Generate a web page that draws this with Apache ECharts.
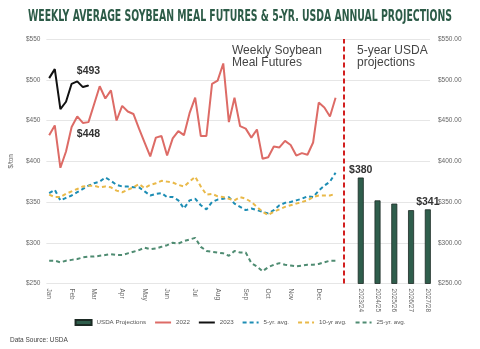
<!DOCTYPE html>
<html>
<head>
<meta charset="utf-8">
<script src="https://cdn.jsdelivr.net/npm/echarts@6/dist/echarts.min.js"></script>
<style>
  html, body { margin: 0; padding: 0; background: #ffffff; }
  #chart { width: 480px; height: 349px; }
</style>
</head>
<body>
<div id="chart"></div>
<script>
// Week-of-year categories; a month name marks the first week of each month
const weekLabels = [
  'Jan','','','',
  'Feb','','','',
  'Mar','','','','',
  'Apr','','','',
  'May','','','',
  'Jun','','','','',
  'Jul','','','',
  'Aug','','','','',
  'Sep','','','',
  'Oct','','','',
  'Nov','','','','',
  'Dec','','',''
];

// Weekly average soybean meal futures, $/ton
const futures2022 = [
  432, 444, 392, 412, 442, 455, 447, 448, 470, 492,
  477, 487, 450, 468, 461, 458, 440, 423, 406, 429,
  431, 407, 428, 437, 432, 459, 478, 431, 431, 495,
  499, 520, 448, 478, 443, 440, 429, 439, 403, 405,
  418, 417, 425, 420, 407, 410, 408, 423, 472, 466,
  455, 478
];
const futures2023 = [502, 513, 464, 473, 495, 498, 491, 493];

const avg5yr = [
  361, 365, 352, 355, 358, 362, 366, 370, 373, 375,
  380, 376, 371, 369, 369, 368, 368, 363, 358, 360,
  361, 356, 356, 352, 342, 352, 354, 346, 341, 350,
  353, 354, 356, 348, 344, 340, 342, 340, 338, 336,
  340, 346, 349, 350, 352, 354, 357, 356, 364, 370,
  375, 386
];
const avg10yr = [
  359, 356, 356, 360, 363, 366, 369, 370, 370, 368,
  369, 368, 364, 362, 365, 368, 372, 367, 371, 373,
  376, 375, 374, 371, 369, 375, 381, 369, 359, 360,
  357, 356, 354, 352, 356, 354, 350, 344, 338, 334,
  338, 341, 344, 346, 348, 350, 352, 356, 358, 358,
  358, 360
];
const avg25yr = [
  278, 278, 276, 278, 279, 280, 282, 283, 283, 284,
  285, 286, 285, 285, 287, 289, 291, 294, 292, 293,
  295, 297, 300, 299, 302, 304, 306, 295, 290, 289,
  288, 287, 284, 290, 288, 288, 275, 271, 265, 270,
  273, 275, 273, 272, 271, 272, 273, 273, 274, 276,
  278, 278
];

// USDA annual projections, $/ton
const projYears = ['2023/24', '2024/25', '2025/26', '2026/27', '2027/28'];
const projValues = [380, 352, 348, 340, 341];

// Weeks whose values carry a price tag
const tagged2022Week = 7;
const tagged2023Week = futures2023.length - 1;

const priceMin = 250, priceMax = 550, priceStep = 50;

const FONT = 'Liberation Sans';
const TITLE_TEXT = 'WEEKLY AVERAGE SOYBEAN MEAL FUTURES & 5-YR. USDA ANNUAL PROJECTIONS';
const TITLE_FONT = 'bold 16px "DejaVu Sans Condensed", "DejaVu Sans", sans-serif';

// Squeeze the banner title to its target width
function titleScale(targetWidth) {
  const ctx = document.createElement('canvas').getContext('2d');
  ctx.font = TITLE_FONT;
  return targetWidth / ctx.measureText(TITLE_TEXT).width;
}

const tagLabel = (pos, dist) => ({
  show: true, position: pos, distance: dist,
  formatter: p => '$' + (Array.isArray(p.value) ? p.value[1] : p.value),
  fontFamily: FONT, fontSize: 10.5, fontWeight: 'bold', color: '#333'
});

// A tagged point on a line: a tiny dot that carries the price label
const taggedPoint = (v, color, pos, dist) => ({
  value: v, symbol: 'circle', symbolSize: 1,
  itemStyle: { color },
  label: tagLabel(pos, dist)
});

const dashed = (name, data, color) => ({
  name, type: 'line', data,
  xAxisIndex: 0, yAxisIndex: 0,
  symbol: 'none', smooth: false,
  lineStyle: { color, width: 2, type: [4, 3] },
  itemStyle: { color },
  z: 2
});

const chart = echarts.init(document.getElementById('chart'), null, { renderer: 'canvas' });

const axisLabelStyle = { fontFamily: FONT, fontSize: 6.5, color: '#666' };
const noMarker = { opacity: 0 };

chart.setOption({
  animation: false,
  backgroundColor: '#ffffff',
  textStyle: { fontFamily: FONT },
  grid: [
    { left: 45, right: 136, top: 39, bottom: 65.5 },
    { left: 344, right: 50, top: 39, bottom: 65.5 }
  ],
  xAxis: [
    {
      type: 'category', gridIndex: 0,
      data: weekLabels.concat(['']),
      boundaryGap: true,
      axisLine: { show: false }, axisTick: { show: false },
      axisLabel: Object.assign({ interval: 0, rotate: -90, margin: 5 }, axisLabelStyle)
    },
    {
      type: 'value', gridIndex: 1,
      min: -1, max: 4.13, interval: 1,
      axisLine: { show: false }, axisTick: { show: false },
      splitLine: { show: false },
      axisLabel: Object.assign({
        rotate: -90, margin: 5,
        formatter: v => (Number.isInteger(v) && projYears[v]) ? projYears[v] : ''
      }, axisLabelStyle)
    }
  ],
  yAxis: [
    {
      type: 'value', gridIndex: 0,
      min: priceMin, max: priceMax, interval: priceStep,
      axisLine: { show: false }, axisTick: { show: false },
      splitLine: { lineStyle: { color: '#e6e6e6', width: 1 } },
      axisLabel: Object.assign({ margin: 6, formatter: v => '$' + v }, axisLabelStyle),
      name: '$/ton', nameLocation: 'middle', nameGap: 24,
      nameTextStyle: { fontFamily: FONT, fontSize: 6.5, color: '#666' }
    },
    {
      type: 'value', gridIndex: 1, position: 'right',
      min: priceMin, max: priceMax, interval: priceStep,
      axisLine: { show: false }, axisTick: { show: false },
      splitLine: { lineStyle: { color: '#e6e6e6', width: 1 } },
      axisLabel: Object.assign({ margin: 8, formatter: v => '$' + v.toFixed(2) }, axisLabelStyle)
    }
  ],
  legend: {
    left: 'center', top: 314,
    itemWidth: 16, itemHeight: 5, itemGap: 8,
    textStyle: { fontFamily: FONT, fontSize: 6.2, color: '#555' },
    data: [
      { name: 'USDA Projections', icon: 'rect' },
      { name: '2022', itemStyle: noMarker },
      { name: '2023', itemStyle: noMarker },
      { name: '5-yr. avg.', itemStyle: noMarker },
      { name: '10-yr avg.', itemStyle: noMarker },
      { name: '25-yr. avg.', itemStyle: noMarker }
    ]
  },
  series: [
    {
      name: 'USDA Projections', type: 'bar',
      xAxisIndex: 1, yAxisIndex: 1,
      barWidth: 6,
      data: projValues.map((v, i) => {
        const item = { value: [i, v] };
        if (i === 0 || i === projValues.length - 1) item.label = tagLabel('top', 2);
        return item;
      }),
      itemStyle: { color: '#2f5e4c', borderColor: '#1c2a24', borderWidth: 0.8 },
      markLine: {
        silent: true, symbol: 'none',
        label: { show: false },
        lineStyle: { color: '#d21f1f', width: 2, type: [5, 3] },
        data: [{ xAxis: -1 }]
      }
    },
    dashed('5-yr. avg.', avg5yr, '#1d8db4'),
    dashed('10-yr avg.', avg10yr, '#e9b949'),
    dashed('25-yr. avg.', avg25yr, '#4f8c72'),
    {
      name: '2022', type: 'line',
      xAxisIndex: 0, yAxisIndex: 0,
      symbol: 'none',
      lineStyle: { color: '#dd6b66', width: 2 },
      itemStyle: { color: '#dd6b66' },
      data: futures2022.map((v, i) => i === tagged2022Week
        ? taggedPoint(v, '#dd6b66', 'bottom', 6)
        : v),
      z: 3
    },
    {
      name: '2023', type: 'line',
      xAxisIndex: 0, yAxisIndex: 0,
      symbol: 'none',
      lineStyle: { color: '#111111', width: 2 },
      itemStyle: { color: '#111111' },
      data: futures2023.map((v, i) => i === tagged2023Week
        ? taggedPoint(v, '#111111', 'top', 8)
        : v),
      z: 4
    }
  ],
  graphic: [
    {
      type: 'text', left: 'center', top: 9,
      scaleX: titleScale(424),
      style: {
        text: TITLE_TEXT,
        font: TITLE_FONT,
        fill: '#2c5b47'
      }
    },
    {
      type: 'text', left: 232, top: 44,
      style: {
        text: 'Weekly Soybean\nMeal Futures',
        fontFamily: FONT, fontSize: 12, lineHeight: 12.5, fill: '#444'
      }
    },
    {
      type: 'text', left: 357, top: 44,
      style: {
        text: '5-year USDA\nprojections',
        fontFamily: FONT, fontSize: 12, lineHeight: 12.5, fill: '#444'
      }
    },
    {
      type: 'text', left: 10, top: 337,
      style: {
        text: 'Data Source: USDA',
        fontFamily: FONT, fontSize: 6.5, fill: '#444'
      }
    }
  ]
});
</script>
</body>
</html>
